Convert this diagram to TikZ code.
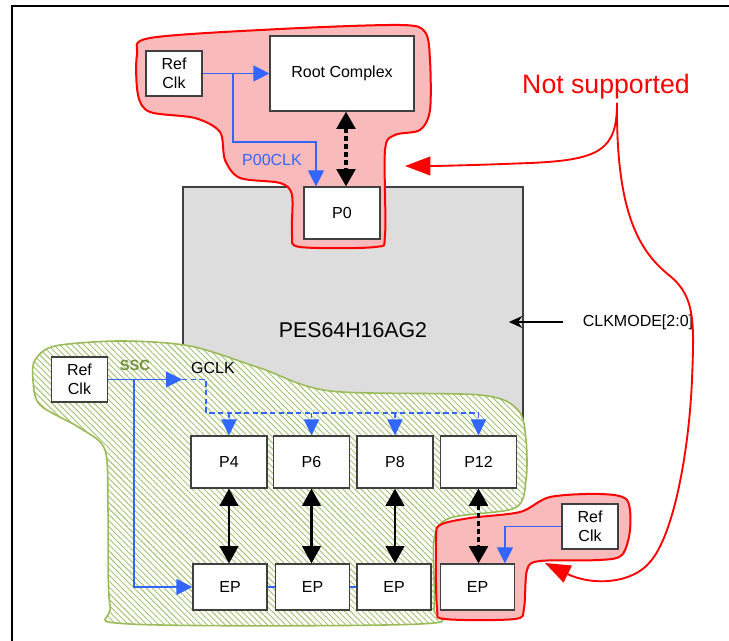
\documentclass[tikz,border=0pt]{standalone}
\usepackage{fontspec}
\setmainfont{Liberation Sans}
\usetikzlibrary{arrows.meta,patterns,patterns.meta,calc}
\definecolor{clkblue}{RGB}{51,102,255}
\definecolor{pinkfill}{RGB}{248,186,186}
\definecolor{greenline}{RGB}{155,187,89}
\definecolor{hatchgreen}{RGB}{165,195,115}
\definecolor{sscgreen}{RGB}{119,147,60}
\definecolor{chipgray}{RGB}{221,221,221}
\definecolor{boxline}{RGB}{64,64,64}
\begin{document}
\begin{tikzpicture}[x=0.75pt,y=-0.75pt,
  txt/.style={font=\fontsize{12}{14}\selectfont},
  box/.style={draw=boxline, line width=0.9pt, fill=white, inner sep=0pt, align=center, txt},
  refbox/.style={box, minimum width=42pt, minimum height=33.75pt},
  pbox/.style={box, minimum width=57pt, minimum height=39pt},
  epbox/.style={box, minimum width=55.5pt, minimum height=34.5pt},
  bluearrow/.style={draw=clkblue, line width=0.9pt, -{Triangle[length=12pt,width=12pt]}},
  blueline/.style={draw=clkblue, line width=0.9pt},
  bluedash/.style={draw=clkblue, line width=0.9pt, dash pattern=on 4pt off 2.5pt},
  bluedasharrow/.style={bluedash, -{Triangle[length=12pt,width=11.5pt]}},
  bidir/.style={draw=black, line width=1.6pt, {Triangle[length=13pt,width=14pt]}-{Triangle[length=13pt,width=14pt]}},
  dotbidir/.style={bidir, dash pattern=on 4pt off 2pt, line width=2.6pt},
  redarrow/.style={draw=red, line width=1.4pt, -{Triangle[length=19pt,width=14pt]}},
  redblob/.style={draw=red, line width=1.5pt, fill=pinkfill},
  greenblob/.style={draw=greenline, line width=1.2pt, preaction={fill=white},
     pattern={Lines[angle=-45,distance=3.2pt,line width=0.7pt]}, pattern color=hatchgreen},
  frameline/.style={draw=black, line width=2pt}
]
\useasboundingbox (0,0) rectangle (729,641);
\fill[white] (0,0) rectangle (729,641);
% frame
\draw[frameline] (729,6) -- (12,6) -- (12,641);

% chip
\node[draw=boxline, fill=chipgray, line width=0.9pt, minimum width=255pt, minimum height=182.25pt, inner sep=0pt] (chip) at (353,308.5) {};

% blobs
\draw[redblob] plot[smooth cycle, tension=0.5] coordinates {
 (150,38) (280,29) (400,25) (425,32) (430,60) (430,110) (420,130) (395,135) (385,150)
 (385,235) (375,247) (300,247) (292,235) (292,195) (280,183) (240,178) (225,160)
 (220,132) (195,118) (150,112) (138,95) (137,55)};
\draw[greenblob] plot[smooth cycle, tension=0.5] coordinates {
 (35,360) (55,346) (120,341) (190,346) (260,368) (330,391) (480,395) (518,410)
 (526,440) (526,480) (515,508) (450,518) (434,540) (434,608) (420,624) (130,624)
 (110,605) (108,510) (105,450) (80,428) (40,405) (33,380)};
\draw[redblob] plot[smooth cycle, tension=0.5] coordinates {
 (440,525) (470,518) (520,512) (550,497) (600,494) (627,500) (630,530) (622,555)
 (600,560) (540,561) (527,570) (524,608) (515,619) (445,619) (437,608) (436,540)};

\node[font=\fontsize{16}{18}\selectfont] (chiplabel) at (353,330) {PES64H16AG2};

% boxes
\node[refbox] (refA) at (174,73.5) {Ref\\Clk};
\node[box, minimum width=108pt, minimum height=56.25pt] (root) at (342,73.5) {Root Complex};
\node[pbox] (P0) at (342,213) {P0};

\node[refbox] (refB) at (79.5,379.5) {Ref\\Clk};
\node[pbox] (P4) at (229,462) {P4};
\node[pbox] (P6) at (311.5,462) {P6};
\node[pbox] (P8) at (395,462) {P8};
\node[pbox] (P12) at (478.5,462) {P12};
\node[epbox] (EP1) at (230,587) {EP};
\node[epbox] (EP2) at (312.5,587) {EP};
\node[epbox] (EP3) at (394,587) {EP};
\node[epbox] (EP4) at (477.5,587) {EP};
\node[refbox] (refC) at (590,526.5) {Ref\\Clk};

% top clocks
\coordinate (br1) at (233,73.5);
\draw[bluearrow] (refA.east) -- (root.west);
\draw[bluearrow] (br1) -- ++(0,68.5) -| ([xshift=-19.5pt]P0.north);
\node[txt, text=clkblue] (p00clk) at (272,160) {P00CLK};
\draw[dotbidir] ([xshift=3pt]root.south) -- ([xshift=3pt]P0.north);

% lower clocks
\coordinate (g1) at (182,379.5);
\coordinate (br2) at (134,379.5);
\coordinate (bus) at (206,413);
\draw[bluearrow] (refB.east) -- (g1);
\draw[bluedash] (g1) -| (bus) -- (bus -| P12.north);
\foreach \p in {P4,P6,P8,P12} \draw[bluedasharrow] (bus -| \p.north) -- (\p.north);
\draw[bluearrow] (br2) |- (EP1.west);
\node[txt, font=\fontsize{11}{13}\selectfont\bfseries, text=sscgreen] (ssc) at (135,365) {SSC};
\node[txt] (gclk) at (213,368) {GCLK};
\draw[blueline] (EP1.east) -- (EP2.west);
\draw[blueline] (EP2.east) -- (EP3.west);
\draw[bidir] (P4.south) -- (P4.south |- EP1.north);
\draw[bidir] (P6.south) -- (P6.south |- EP2.north);
\draw[bidir] (P8.south) -- (P8.south |- EP3.north);
\draw[dotbidir] (P12.south) -- (P12.south |- EP4.north);
\draw[bluearrow] (refC.west) -| ([xshift=20.6pt]EP4.north);

% clkmode
\node[txt] (clkmode) at (638,322) {CLKMODE[2:0]};
\draw[draw=black, line width=0.8pt, -{Stealth[length=10pt,width=9pt]}] ([xshift=-11pt]clkmode.west) -- ([xshift=-11pt]clkmode.west -| chip.east);

% not supported
\node[text=red, font=\fontsize{20}{24}\selectfont] (ns) at (606,87) {Not supported};
\coordinate (nsfoot) at (617,103);
\coordinate (tipA) at (405,166);
\coordinate (tipB) at (545,563);
\draw[redarrow] (nsfoot) .. controls (617,150) and (600,160) .. (530,163) .. controls (480,165) and (440,166) .. (tipA);
\draw[redarrow] (nsfoot) .. controls (616,215) and (640,252) .. (670,276) .. controls (696,297) and (694,325) .. (692,380) .. controls (689,450) and (674,535) .. (650,562) .. controls (632,584) and (592,586) .. (tipB);
\end{tikzpicture}
\end{document}
